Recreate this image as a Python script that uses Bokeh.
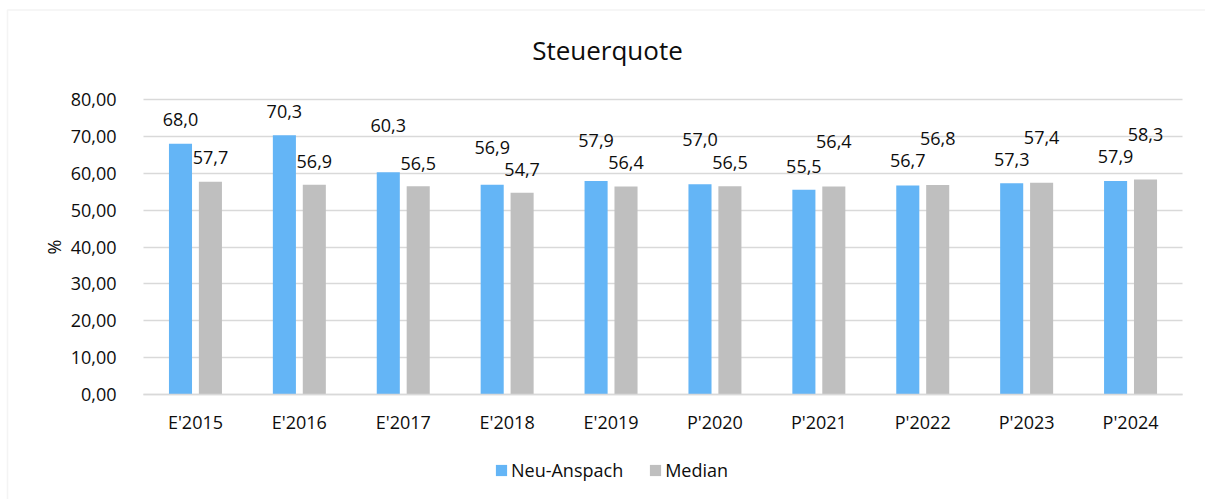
from bokeh.plotting import figure
from bokeh.models import (ColumnDataSource, Range1d, FixedTicker, LinearAxis, Grid,
                          Legend, LegendItem, Label, BoxAnnotation)
from bokeh.core.properties import value
from bokeh.embed import file_html
from bokeh.resources import INLINE

# ---- data ----
categories = ["E'2015", "E'2016", "E'2017", "E'2018", "E'2019",
              "P'2020", "P'2021", "P'2022", "P'2023", "P'2024"]
neu_anspach = [68.0, 70.3, 60.3, 56.9, 57.9, 57.0, 55.5, 56.7, 57.3, 57.9]
median = [57.7, 56.9, 56.5, 54.7, 56.4, 56.5, 56.4, 56.8, 57.4, 58.3]
y_ticks = [0, 10, 20, 30, 40, 50, 60, 70, 80]
y_tick_labels = ["0,00", "10,00", "20,00", "30,00", "40,00",
                 "50,00", "60,00", "70,00", "80,00"]

# ---- layout (label lift above bar top, in pixels) ----
lift_blue = [24, 24, 47, 37, 40, 45, 23, 25, 24, 24]
lift_gray = [24, 23, 23, 23, 24, 24, 45, 47, 45, 45]

W, H = 1205, 499
PL, PR, PT, PB = 143, 1182, 99, 394      # plot area in pixels
YMAX = 80
n = len(categories)
ux = (PR - PL) / n                        # px per category
uy = (PB - PT) / YMAX                     # px per unit

BLUE = "#64B5F6"
GRAY = "#BFBFBF"
GRID = "#D9D9D9"
FONT = "Open Sans"
TXT = "#0D0D0D"
FS = "18px"


def fmt(v):
    return f"{v:.1f}".replace(".", ",")


xs = [i + 0.5 for i in range(n)]
off = 0.144
bw = 0.222

src_b = ColumnDataSource(dict(x=[x - off for x in xs], top=neu_anspach,
                              lab=[fmt(v) for v in neu_anspach],
                              yoff=[-l for l in lift_blue]))
src_g = ColumnDataSource(dict(x=[x + off for x in xs], top=median,
                              lab=[fmt(v) for v in median],
                              yoff=[-l for l in lift_gray]))

p = figure(x_range=Range1d(-PL / ux, (W - PL) / ux),
           y_range=Range1d(-(H - PB) / uy, YMAX + PT / uy),
           width=W, height=H, output_backend="svg", toolbar_location=None,
           x_axis_type=None, y_axis_type=None,
           min_border=0, min_border_left=0, min_border_right=0,
           min_border_top=0, min_border_bottom=0)
p.outline_line_color = None
p.background_fill_color = "white"
p.border_fill_color = "white"

# chart border (top & left visible)
p.add_layout(BoxAnnotation(left=(7 - PL) / ux, top=YMAX + (PT - 9.5) / uy,
                           right=(W + 20 - PL) / ux, bottom=-(H + 20 - PB) / uy,
                           fill_alpha=0, line_color=GRID, line_width=1.5))

# axes
yaxis = LinearAxis(ticker=FixedTicker(ticks=y_ticks), fixed_location=0,
                   bounds=(0, YMAX))
yaxis.major_label_overrides = dict(zip(y_ticks, y_tick_labels))
yaxis.axis_line_color = None
yaxis.major_tick_line_color = None
yaxis.minor_tick_line_color = None
yaxis.major_label_standoff = 21
yaxis.major_label_text_font = FONT
yaxis.major_label_text_font_size = FS
yaxis.major_label_text_color = TXT
yaxis.axis_label = "%"
yaxis.axis_label_text_font = FONT
yaxis.axis_label_text_font_size = FS
yaxis.axis_label_text_font_style = "normal"
yaxis.axis_label_text_color = TXT
yaxis.axis_label_standoff = 2
p.add_layout(yaxis, "left")

p.add_layout(Grid(dimension=1, ticker=yaxis.ticker, cross_bounds=(0, n),
                  grid_line_color=GRID, grid_line_width=1.3))

xaxis = LinearAxis(ticker=FixedTicker(ticks=xs), fixed_location=0, bounds=(0, n))
xaxis.major_label_overrides = dict(zip(xs, categories))
xaxis.axis_line_color = GRID
xaxis.axis_line_width = 1.5
xaxis.major_tick_line_color = None
xaxis.minor_tick_line_color = None
xaxis.major_label_standoff = 9
xaxis.major_label_text_font = FONT
xaxis.major_label_text_font_size = FS
xaxis.major_label_text_color = TXT
p.add_layout(xaxis, "below")

r1 = p.vbar(x="x", top="top", width=bw, source=src_b, fill_color=BLUE, line_color=None)
r2 = p.vbar(x="x", top="top", width=bw, source=src_g, fill_color=GRAY, line_color=None)

for src in (src_b, src_g):
    p.text(x="x", y="top", text="lab", y_offset="yoff", source=src,
           text_align="center", text_baseline="middle",
           text_font=value(FONT), text_font_size=FS, text_color=TXT)

# title
p.add_layout(Label(x=(607 - PL) / ux, y=YMAX + (PT - 49) / uy, text="Steuerquote",
                   text_align="center", text_baseline="middle", text_font=FONT,
                   text_font_size="26px", text_color=TXT))

legend = Legend(items=[LegendItem(label="Neu-Anspach", renderers=[r1]),
                       LegendItem(label="Median", renderers=[r2])],
                orientation="horizontal", location=(494, 17),
                glyph_width=14, glyph_height=14, label_standoff=3, spacing=25,
                padding=0, margin=0, border_line_color=None,
                background_fill_alpha=0, label_text_font=FONT,
                label_text_font_size=FS, label_text_color=TXT)
p.add_layout(legend)

open("out.html", "w").write(file_html(p, INLINE))
